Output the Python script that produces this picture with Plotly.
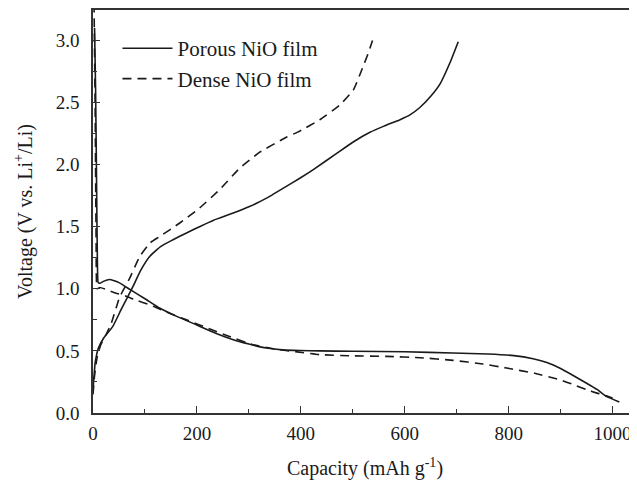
import plotly.graph_objects as go

# Discharge / charge curves (capacity mAh/g, voltage V)
porous_dis_x = [3, 5, 7, 8.5, 10, 14, 20, 32, 50, 71, 100, 128, 160, 199, 235, 270, 300, 334, 365, 398, 436, 500, 600, 693, 760, 810, 847, 875, 898, 925, 950, 970, 988, 1013]
porous_dis_y = [3.1, 2.6, 1.8, 1.2, 1.05, 1.045, 1.06, 1.075, 1.05, 0.995, 0.92, 0.845, 0.78, 0.71, 0.645, 0.59, 0.555, 0.523, 0.508, 0.503, 0.5, 0.497, 0.493, 0.483, 0.475, 0.462, 0.437, 0.405, 0.362, 0.30, 0.24, 0.19, 0.134, 0.089]

dense_dis_x = [2, 4, 6, 8, 13, 25, 40, 64, 85, 109, 140, 180, 220, 260, 308, 350, 385, 436, 500, 565, 630, 693, 750, 796, 850, 898, 925, 950, 970, 988, 1000]
dense_dis_y = [3.3, 2.5, 1.4, 1.0, 1.01, 0.995, 0.97, 0.94, 0.905, 0.872, 0.815, 0.75, 0.685, 0.62, 0.55, 0.515, 0.496, 0.47, 0.46, 0.456, 0.445, 0.424, 0.395, 0.362, 0.32, 0.268, 0.228, 0.188, 0.16, 0.139, 0.12]

porous_chg_x = [0, 2, 4, 7, 10, 20, 38.5, 55, 77, 92, 109, 130, 154, 180, 205, 231, 270, 300, 334, 372, 398, 424, 469, 500, 533, 560, 590, 610, 629, 650, 668, 687, 703]
porous_chg_y = [0.2, 0.3, 0.4, 0.47, 0.52, 0.6, 0.70, 0.84, 1.02, 1.15, 1.26, 1.34, 1.395, 1.45, 1.50, 1.55, 1.61, 1.66, 1.73, 1.825, 1.89, 1.96, 2.09, 2.18, 2.26, 2.31, 2.36, 2.40, 2.46, 2.55, 2.65, 2.82, 2.99]

dense_chg_x = [0, 3, 8, 15, 25, 35, 51, 70, 90, 110, 128, 167, 205, 244, 282, 321, 372, 398, 436, 475, 501, 517, 530, 538]
dense_chg_y = [0.15, 0.3, 0.45, 0.55, 0.63, 0.72, 0.93, 1.08, 1.26, 1.37, 1.42, 1.53, 1.65, 1.80, 1.97, 2.10, 2.22, 2.27, 2.36, 2.48, 2.6, 2.76, 2.9, 3.0]

series_names = ["Porous NiO film", "Dense NiO film"]

FONT = "Liberation Serif, Times New Roman, serif"
INK = "#1a1a1a"

fig = go.Figure()
solid = dict(color=INK, width=1.6, shape="spline", smoothing=0.4)
dashed = dict(color=INK, width=1.6, dash="9px,6px", shape="spline", smoothing=0.4)

fig.add_trace(go.Scatter(x=porous_dis_x, y=porous_dis_y, mode="lines", line=solid,
                         name=series_names[0], legendgroup="p"))
fig.add_trace(go.Scatter(x=dense_dis_x, y=dense_dis_y, mode="lines", line=dashed,
                         name=series_names[1], legendgroup="d"))
fig.add_trace(go.Scatter(x=porous_chg_x, y=porous_chg_y, mode="lines", line=solid,
                         name=series_names[0], legendgroup="p", showlegend=False))
fig.add_trace(go.Scatter(x=dense_chg_x, y=dense_chg_y, mode="lines", line=dashed,
                         name=series_names[1], legendgroup="d", showlegend=False))

# page body has an 8px default margin, so the figure is sized to fit the window
fig.update_layout(
    width=629, height=472,
    margin=dict(l=85, r=0, t=2, b=67, autoexpand=False),
    paper_bgcolor="white", plot_bgcolor="white",
    font=dict(family=FONT, color=INK, size=19),
    legend=dict(x=0.045, y=0.955, xanchor="left", yanchor="top",
                bgcolor="rgba(0,0,0,0)", font=dict(size=21, family=FONT, color=INK),
                itemwidth=50, tracegroupgap=0),
    xaxis=dict(range=[0, 1047], showgrid=False, zeroline=False, automargin=False,
               showline=True, linecolor="#333", linewidth=1.5, mirror=True,
               ticks="inside", ticklen=7, tickwidth=1.3, tickcolor="#333",
               dtick=200, tick0=0, ticklabelstandoff=2,
               minor=dict(ticks="inside", ticklen=4, dtick=100, tickcolor="#333", tickwidth=1.3),
               tickfont=dict(size=19, family=FONT, color=INK),
               title=dict(text="Capacity (mAh g<sup>-1</sup>)", font=dict(size=20, family=FONT, color=INK), standoff=20)),
    yaxis=dict(range=[0, 3.245], showgrid=False, zeroline=False, automargin=False,
               showline=True, linecolor="#333", linewidth=1.5, mirror=False,
               ticks="inside", ticklen=7, tickwidth=1.3, tickcolor="#333",
               dtick=0.5, tick0=0, tickformat=".1f", ticklabelstandoff=8,
               minor=dict(ticks="inside", ticklen=4, dtick=0.25, tickcolor="#333", tickwidth=1.3),
               tickfont=dict(size=19, family=FONT, color=INK),
               title=dict(text="Voltage (V vs. Li<sup>+</sup>/Li)", font=dict(size=20, family=FONT, color=INK), standoff=18)),
)

fig.write_html("out.html")
